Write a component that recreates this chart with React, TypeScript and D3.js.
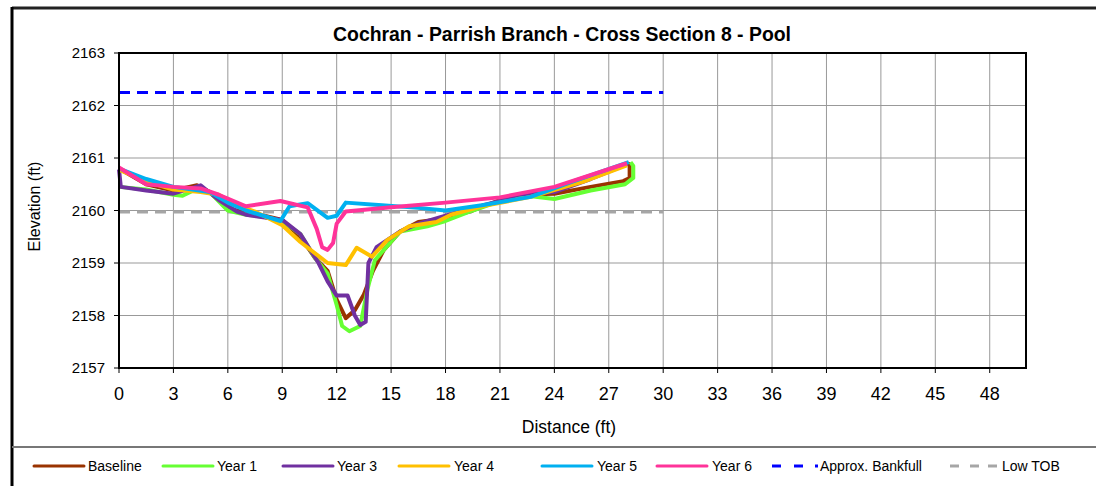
import * as d3 from 'd3'
import React from 'react'

// cross section survey data: [distance ft, elevation ft]
const baseline = [[0, 2160.8], [1.5, 2160.5], [3, 2160.38], [4.3, 2160.48], [5, 2160.35], [6, 2160.05], [7, 2159.95], [8, 2159.9], [9, 2159.82], [10, 2159.5], [10.8, 2159.1], [11.5, 2158.85], [12, 2158.3], [12.5, 2157.95], [13, 2158.1], [13.5, 2158.4], [14, 2158.85], [14.6, 2159.25], [15.5, 2159.6], [16.5, 2159.78], [18, 2159.85], [19.5, 2160.0], [21, 2160.2], [22, 2160.3], [24, 2160.32], [26, 2160.45], [27.8, 2160.56], [28.15, 2160.62], [28.15, 2160.88], [28, 2160.9]]
const year1 = [[0, 2160.45], [1.5, 2160.4], [3, 2160.3], [3.5, 2160.28], [4.5, 2160.45], [5, 2160.35], [6, 2160.0], [7, 2159.92], [8, 2159.88], [9, 2159.8], [10, 2159.55], [10.8, 2159.1], [11.5, 2158.8], [12, 2158.2], [12.3, 2157.8], [12.7, 2157.7], [13.3, 2157.8], [13.7, 2158.5], [14.1, 2159.05], [14.6, 2159.25], [15.5, 2159.6], [17, 2159.7], [18, 2159.8], [19.5, 2160.0], [21, 2160.18], [22.5, 2160.28], [24, 2160.22], [26, 2160.38], [27.9, 2160.5], [28.35, 2160.62], [28.35, 2160.85], [28.2, 2160.92]]
const year3 = [[0, 2160.78], [0.1, 2160.45], [1.5, 2160.38], [3, 2160.32], [4.5, 2160.48], [5.5, 2160.2], [6.5, 2159.98], [7, 2159.92], [9, 2159.82], [10, 2159.55], [11, 2159.0], [11.5, 2158.65], [12, 2158.38], [12.6, 2158.38], [13, 2158.0], [13.3, 2157.82], [13.6, 2157.88], [13.75, 2159.0], [14.2, 2159.3], [15.5, 2159.6], [16.5, 2159.75], [18, 2159.9], [19.5, 2160.05], [21, 2160.18], [22, 2160.3], [24, 2160.35], [26, 2160.6], [28, 2160.88]]
const year4 = [[0, 2160.78], [1.5, 2160.55], [3, 2160.4], [4.5, 2160.35], [5.5, 2160.3], [6.5, 2160.1], [7.5, 2159.98], [9, 2159.72], [10, 2159.4], [11.5, 2159.0], [12.5, 2158.96], [13.1, 2159.29], [13.95, 2159.12], [14.8, 2159.44], [16, 2159.7], [17.5, 2159.78], [18.3, 2159.92], [20, 2160.08], [22.7, 2160.26], [25.6, 2160.55], [28, 2160.86]]
const year5 = [[0, 2160.8], [1.5, 2160.6], [3, 2160.45], [5, 2160.35], [6, 2160.15], [7, 2160.0], [8.9, 2159.8], [9.4, 2160.08], [10.4, 2160.14], [11.5, 2159.86], [12, 2159.9], [12.5, 2160.15], [14.5, 2160.1], [16.5, 2160.05], [18, 2160.0], [20, 2160.1], [22.7, 2160.26], [25, 2160.55], [28.1, 2160.92]]
const year6 = [[0, 2160.82], [1.5, 2160.5], [3, 2160.45], [4.5, 2160.42], [5.5, 2160.3], [7, 2160.08], [8.9, 2160.18], [10.4, 2160.06], [10.9, 2159.65], [11.2, 2159.3], [11.5, 2159.25], [11.8, 2159.38], [12, 2159.75], [12.5, 2159.98], [15, 2160.06], [18, 2160.15], [21, 2160.25], [24, 2160.45], [28, 2160.9]]
const bankfull = [[0, 2162.25], [30, 2162.25]]
const lowTob = [[0, 2159.97], [30, 2159.97]]

const seriesNames = ['Baseline', 'Year 1', 'Year 3', 'Year 4', 'Year 5', 'Year 6', 'Approx. Bankfull', 'Low TOB']
const seriesData = [baseline, year1, year3, year4, year5, year6, bankfull, lowTob]
const seriesColors = ['#993300', '#66FF33', '#7030A0', '#FFC000', '#00B0F0', '#FF3399', '#0000FF', '#A6A6A6']

const xTicks = d3.range(0, 49, 3)
const yTicks = d3.range(2157, 2164, 1)

const FONT = 'Liberation Sans, Arial, sans-serif'

export default function App() {
    const width = 1096
    const height = 486
    const plot = { left: 119, right: 1026, top: 53, bottom: 368 }

    const x = d3.scaleLinear().domain([0, 50]).range([plot.left, plot.right])
    const y = d3.scaleLinear().domain([2157, 2163]).range([plot.bottom, plot.top])

    const line = d3.line().x(d => x(d[0])).y(d => y(d[1]))

    // reference lines drawn under the survey lines, Year 6 on top
    const drawOrder = [7, 6, 0, 1, 2, 3, 4, 5]

    // legend slots (line start x, text x)
    const legendX = [34, 163, 283, 399, 542, 657, 772, 950]
    const legendTextX = [88, 217, 337, 454, 597, 712, 820, 1002]
    const legendY = 466

    return (
        <svg width={width} height={height} style={{ position: 'absolute', left: 0, top: 0, background: '#fff' }}>
            {/* outer frame */}
            <rect x={0} y={0} width={width} height={height} fill="#fff" />
            <line x1={12} x2={width} y1={8} y2={8} stroke="#222" strokeWidth={3} />
            <line x1={12} x2={12} y1={7} y2={height} stroke="#000" strokeWidth={3} />
            <line x1={12} x2={width} y1={447} y2={447} stroke="#777" strokeWidth={2} />

            <text x={562} y={41} textAnchor="middle" fontFamily={FONT} fontWeight="bold" fontSize={19.4}>
                Cochran - Parrish Branch - Cross Section 8 - Pool
            </text>

            {/* grid */}
            {yTicks.map(t => (
                <line key={'gy' + t} x1={plot.left} x2={plot.right} y1={y(t)} y2={y(t)} stroke="#999" strokeWidth={1} />
            ))}
            {xTicks.map(t => (
                <line key={'gx' + t} x1={x(t)} x2={x(t)} y1={plot.top} y2={plot.bottom} stroke="#999" strokeWidth={1} />
            ))}

            {/* series */}
            {drawOrder.map(i => (
                <path key={'s' + i} d={line(seriesData[i])} fill="none" stroke={seriesColors[i]}
                    strokeWidth={i >= 6 ? 3 : 4} strokeLinejoin="round"
                    strokeDasharray={i >= 6 ? '11,7' : undefined} />
            ))}

            {/* plot border */}
            <rect x={plot.left} y={plot.top} width={plot.right - plot.left} height={plot.bottom - plot.top}
                fill="none" stroke="#000" strokeWidth={2} />

            {/* y axis */}
            {yTicks.map(t => (
                <g key={'ty' + t}>
                    <line x1={plot.left - 5} x2={plot.left} y1={y(t)} y2={y(t)} stroke="#000" />
                    <text x={105} y={y(t)} dy="0.35em" textAnchor="end" fontFamily={FONT} fontSize={15}>{t}</text>
                </g>
            ))}
            {/* x axis */}
            {xTicks.map(t => (
                <g key={'tx' + t}>
                    <line x1={x(t)} x2={x(t)} y1={plot.bottom} y2={plot.bottom + 5} stroke="#000" />
                    <text x={x(t)} y={400} textAnchor="middle" fontFamily={FONT} fontSize={18}>{t}</text>
                </g>
            ))}

            <text x={569} y={433} textAnchor="middle" fontFamily={FONT} fontSize={17.5}>Distance (ft)</text>
            <text transform={`translate(40,${(plot.top + plot.bottom) / 2 - 4}) rotate(-90)`} textAnchor="middle"
                fontFamily={FONT} fontSize={16}>Elevation (ft)</text>

            {/* legend */}
            {seriesNames.map((name, i) => (
                <g key={'lg' + i}>
                    {i === 6 ? (
                        <g>
                            <line x1={legendX[i]} x2={legendX[i] + 9} y1={legendY} y2={legendY} stroke={seriesColors[i]} strokeWidth={3} />
                            <line x1={legendX[i] + 22} x2={legendX[i] + 31} y1={legendY} y2={legendY} stroke={seriesColors[i]} strokeWidth={3} />
                            <line x1={legendX[i] + 43} x2={legendX[i] + 46} y1={legendY} y2={legendY} stroke={seriesColors[i]} strokeWidth={3} />
                        </g>
                    ) : i === 7 ? (
                        <g>
                            <line x1={legendX[i]} x2={legendX[i] + 9} y1={legendY} y2={legendY} stroke={seriesColors[i]} strokeWidth={3} />
                            <line x1={legendX[i] + 20} x2={legendX[i] + 29} y1={legendY} y2={legendY} stroke={seriesColors[i]} strokeWidth={3} />
                            <line x1={legendX[i] + 38} x2={legendX[i] + 47} y1={legendY} y2={legendY} stroke={seriesColors[i]} strokeWidth={3} />
                        </g>
                    ) : (
                        <line x1={legendX[i]} x2={legendX[i] + 50} y1={legendY} y2={legendY} stroke={seriesColors[i]} strokeWidth={3} strokeLinecap="round" />
                    )}
                    <text x={legendTextX[i]} y={legendY} dy="0.35em" fontFamily={FONT} fontSize={14}>{name}</text>
                </g>
            ))}
        </svg>
    )
}
